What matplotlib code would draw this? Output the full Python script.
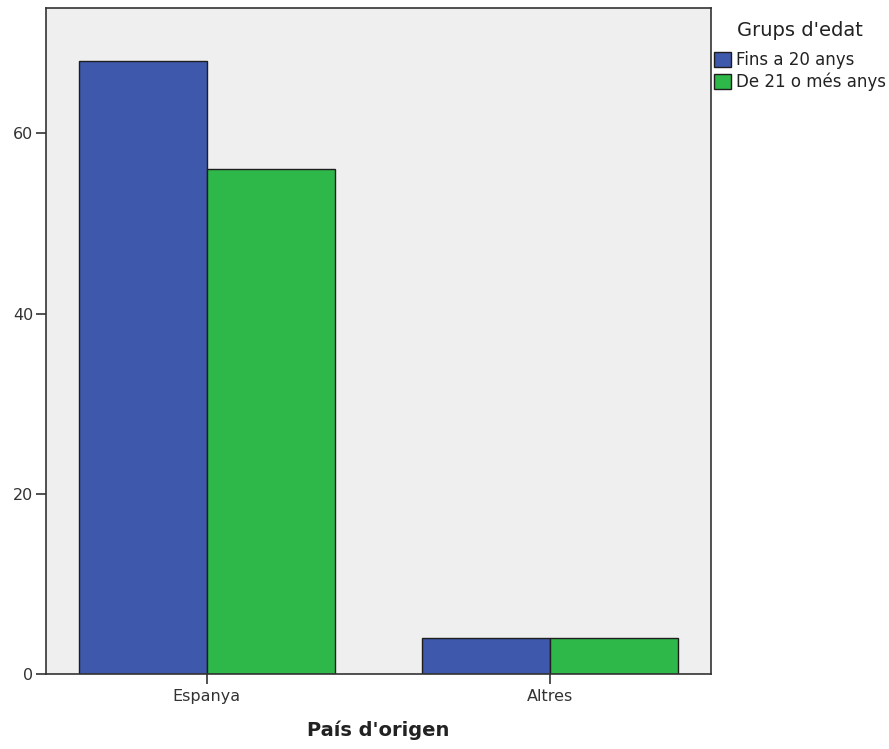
import matplotlib
matplotlib.use("Agg")
import matplotlib.pyplot as plt
import numpy as np

# ---------------------------------------------------------------
#  DATA
# ---------------------------------------------------------------
countries = ["Espanya", "Altres"]
age_groups = ["Fins a 20 anys", "De 21 o més anys"]
counts_young = [68, 4]
counts_older = [56, 4]

colors = ["#3e58ab", "#2eb84a"]
edge = "#1e1e1e"

# ---------------------------------------------------------------
#  PLOT
# ---------------------------------------------------------------
plt.rcParams["font.family"] = ["DejaVu Sans"]

fig = plt.figure(figsize=(8.89, 7.49), dpi=100)
ax = fig.add_axes([46 / 889, 1 - 674 / 749, (711 - 46) / 889, (674 - 8) / 749])
ax.set_facecolor("#efefef")

x = np.arange(len(countries))
width = 0.372
bars_1 = ax.bar(x - width / 2, counts_young, width, color=colors[0],
                edgecolor=edge, linewidth=1.0, label=age_groups[0])
bars_2 = ax.bar(x + width / 2, counts_older, width, color=colors[1],
                edgecolor=edge, linewidth=1.0, label=age_groups[1])

ax.set_xlim(-0.468, 1.468)
ax.set_ylim(0, 73.9)
ax.set_yticks([0, 20, 40, 60])
ax.set_xticks(x)
ax.set_xticklabels(countries)
ax.tick_params(axis="both", direction="out", length=7, width=1.2,
               color="#333333", labelsize=11.5, labelcolor="#333333", pad=2)
ax.tick_params(axis="x", pad=4)

for side in ["left", "bottom", "top", "right"]:
    ax.spines[side].set_color("#333333")
    ax.spines[side].set_linewidth(1.2)

ax.set_xlabel("País d'origen", fontsize=14, fontweight="bold",
              color="#222222", labelpad=12)

# legend with separate title
fig.text(737 / 889, 1 - 30 / 749, "Grups d'edat", fontsize=14,
         color="#222222", ha="left", va="center")
leg = fig.legend(handles=[bars_1, bars_2], labels=age_groups,
                 loc="upper left", bbox_to_anchor=(714 / 889, 1 - 51 / 749),
                 frameon=False, fontsize=12, borderpad=0, borderaxespad=0,
                 handlelength=1.0, handleheight=1.0, handletextpad=0.3,
                 labelspacing=0.2)
for t in leg.get_texts():
    t.set_color("#222222")

fig.savefig("out.png", dpi=100)
